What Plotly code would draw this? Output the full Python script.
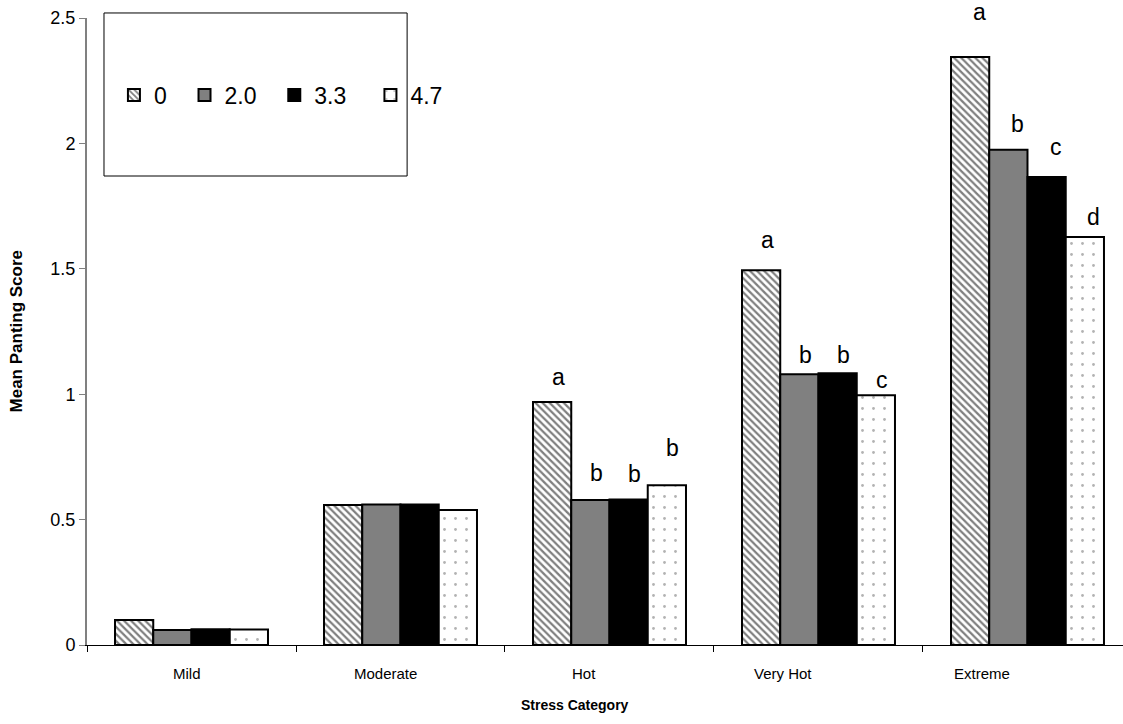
import plotly.graph_objects as go

categories = ["Mild", "Moderate", "Hot", "Very Hot", "Extreme"]
series_names = ["0", "2.0", "3.3", "4.7"]
vals_0 = [0.100, 0.558, 0.969, 1.494, 2.344]
vals_20 = [0.060, 0.560, 0.578, 1.080, 1.975]
vals_33 = [0.063, 0.560, 0.580, 1.084, 1.866]
vals_47 = [0.062, 0.538, 0.637, 0.996, 1.627]
letters_0 = ["", "", "a", "a", "a"]
letters_20 = ["", "", "b", "b", "b"]
letters_33 = ["", "", "b", "b", "c"]
letters_47 = ["", "", "b", "c", "d"]
y_ticks = [0, 0.5, 1, 1.5, 2, 2.5]
y_ticktext = ["0", "0.5", "1", "1.5", "2", "2.5"]

all_vals = [vals_0, vals_20, vals_33, vals_47]
all_letters = [letters_0, letters_20, letters_33, letters_47]

# styling: pixel gap between bar top and letter centre (as placed in the source)
letter_gap = [
    [0, 0, 25, 30, 45],
    [0, 0, 27, 19, 26],
    [0, 0, 26, 18, 30],
    [0, 0, 37, 15, 20],
]
letter_xshift = [0, 0, 6, 6, 9]

FONT = "Liberation Sans, Arial, sans-serif"
BARGAP = 0.268
NB = "\u00a0"
legend_pad = [2, 2, 3, 0]

styles = [
    dict(color="white", pattern=dict(shape="\\", fgcolor="black", bgcolor="white", size=5, solidity=0.45)),
    dict(color="#808080"),
    dict(color="black"),
    dict(color="white", pattern=dict(shape=".", fgcolor="#666666", bgcolor="white", size=11, solidity=0.05)),
]

fig = go.Figure()
for name, vals, st, pad in zip(series_names, all_vals, styles, legend_pad):
    fig.add_trace(go.Bar(
        x=categories, y=vals, name=name + NB * pad,
        marker=dict(line=dict(color="black", width=2), **st),
    ))

annotations = []
n = len(series_names)
grp = 1 - BARGAP
for j, letters in enumerate(all_letters):
    off = -grp / 2 + (j + 0.5) * grp / n
    for i, (lt, v) in enumerate(zip(letters, all_vals[j])):
        if lt:
            annotations.append(dict(
                x=i + off, y=v, xref="x", yref="y", text=lt, showarrow=False,
                yanchor="middle", yshift=letter_gap[j][i], xshift=letter_xshift[i],
                font=dict(family=FONT, size=23, color="black"),
            ))

# category labels (slightly offset as in the source)
label_pos = [-0.02, 0.93, 1.88, 2.83, 3.78]
for p, c in zip(label_pos, categories):
    annotations.append(dict(
        x=p, y=0, xref="x", yref="paper", text=c, showarrow=False,
        yanchor="top", yshift=-18, font=dict(family=FONT, size=15, color="black"),
    ))

annotations.append(dict(
    x=-0.0676, y=0.5, xref="paper", yref="paper", text="<b>Mean Panting Score</b>",
    textangle=-90, showarrow=False, xanchor="center", yanchor="middle",
    font=dict(family=FONT, size=17, color="black"),
))
annotations.append(dict(
    x=0.471, y=-0.0957, xref="paper", yref="paper", text="<b>Stress Category</b>",
    showarrow=False, xanchor="center", yanchor="middle",
    font=dict(family=FONT, size=14, color="black"),
))

fig.update_layout(
    width=1123, height=724,
    margin=dict(l=87, r=0, t=18, b=79),
    paper_bgcolor="white", plot_bgcolor="white",
    barmode="group", bargap=BARGAP, bargroupgap=0,
    font=dict(family=FONT, color="black"),
    showlegend=True,
    legend=dict(
        orientation="h", x=0.026, y=0.877, xanchor="left", yanchor="middle",
        font=dict(family=FONT, size=23, color="black"),
        bgcolor="rgba(0,0,0,0)", borderwidth=0, traceorder="normal",
    ),
    xaxis=dict(
        type="category", range=[-0.5, 4.457], tickson="boundaries",
        ticks="outside", ticklen=6, tickcolor="black", showticklabels=False,
        showline=True, linecolor="black", linewidth=1, showgrid=False, zeroline=False,
    ),
    yaxis=dict(
        range=[0, 2.5], tickvals=y_ticks, ticktext=y_ticktext,
        ticks="outside", ticklen=6, tickcolor="#808080", tickwidth=1,
        showline=True, linecolor="#808080", linewidth=2, showgrid=False, zeroline=False,
        tickfont=dict(family=FONT, size=18, color="black"),
    ),
    annotations=annotations,
    shapes=[dict(
        type="rect", xref="paper", yref="paper", x0=0.0164, x1=0.309, y0=0.748, y1=1.008,
        line=dict(color="black", width=1), fillcolor="rgba(0,0,0,0)",
    )],
)

fig.write_html("out.html")
